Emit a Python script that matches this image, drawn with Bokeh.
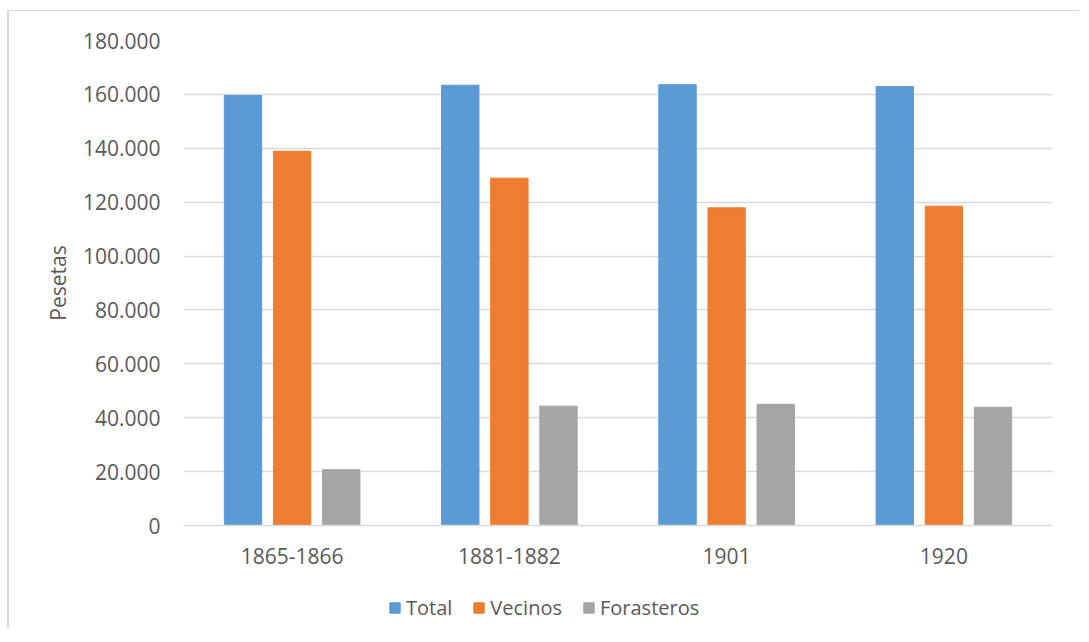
from bokeh.plotting import figure
from bokeh.layouts import column
from bokeh.models import ColumnDataSource, FactorRange, Range1d, Legend, LegendItem, CustomJSTickFormatter, FixedTicker
from bokeh.transform import dodge
from bokeh.embed import file_html
from bokeh.resources import INLINE

periods = ["1865-1866", "1881-1882", "1901", "1920"]
total = [159600, 163400, 163600, 162900]
vecinos = [138900, 128900, 117900, 118500]
forasteros = [20700, 44300, 45000, 43900]
series_names = ["Total", "Vecinos", "Forasteros"]
series_colors = ["#5B9BD5", "#ED7D31", "#A5A5A5"]
y_ticks = [0, 20000, 40000, 60000, 80000, 100000, 120000, 140000, 160000, 180000]

src = ColumnDataSource(dict(p=periods, total=total, vecinos=vecinos, forasteros=forasteros))

FONT = "Open Sans"
TXT = "#595959"
W = 1072

p = figure(x_range=FactorRange(*periods, range_padding=0), y_range=Range1d(0, 180000),
           width=W, height=562, output_backend="svg", toolbar_location=None,
           min_border_left=174, min_border_right=29, min_border_top=29, min_border_bottom=48)
p.outline_line_color = None
p.border_fill_color = "white"

w = 0.172
offsets = [-0.226, 0.0, 0.226]
cols = ["total", "vecinos", "forasteros"]
for off, c, col in zip(offsets, series_colors, cols):
    p.vbar(x=dodge("p", off, range=p.x_range), top=col, width=w, source=src,
           fill_color=c, line_color=c)

p.yaxis.ticker = FixedTicker(ticks=y_ticks)
p.yaxis.formatter = CustomJSTickFormatter(code="""
if (tick == 0) return '0';
return (tick/1000).toFixed(0) + '.000';
""")
p.yaxis.axis_line_color = None
p.yaxis.major_tick_line_color = None
p.yaxis.minor_tick_line_color = None
p.yaxis.major_label_text_font = FONT
p.yaxis.major_label_text_font_size = "21px"
p.yaxis.major_label_text_color = TXT
p.yaxis.major_label_standoff = 17
p.yaxis.axis_label = "Pesetas"
p.yaxis.axis_label_text_font = FONT
p.yaxis.axis_label_text_font_size = "21px"
p.yaxis.axis_label_text_font_style = "normal"
p.yaxis.axis_label_text_color = TXT
p.yaxis.axis_label_standoff = 8

p.xaxis.axis_line_color = "#D9D9D9"
p.xaxis.axis_line_width = 1.5
p.xaxis.major_tick_line_color = None
p.xaxis.minor_tick_line_color = None
p.xaxis.major_label_text_font = FONT
p.xaxis.major_label_text_font_size = "21px"
p.xaxis.major_label_text_color = TXT
p.xaxis.major_label_standoff = 16

p.xgrid.grid_line_color = None
p.ygrid.grid_line_color = "#D9D9D9"
p.ygrid.grid_line_width = 1.5

# legend strip below the chart (its frame is aligned with the main plot's frame)
lf = figure(x_range=Range1d(0, 1), y_range=Range1d(0, 1),
            width=W, height=56, output_backend="svg", toolbar_location=None,
            min_border=0, x_axis_location=None, y_axis_location=None)
lf.grid.grid_line_color = None
lf.outline_line_color = None
items = []
for name, c in zip(series_names, series_colors):
    # swatch renderer kept far outside the visible range; only its legend entry shows
    r = lf.vbar(x=[-100], bottom=[-200], top=[-100], width=0.1, fill_color=c, line_color=c)
    items.append(LegendItem(label=name, renderers=[r]))
legend = Legend(items=items, orientation="horizontal", location=(205, 8),
                label_text_font=FONT, label_text_font_size="20px", label_text_color=TXT,
                glyph_width=13, glyph_height=13, spacing=20, label_standoff=5,
                padding=4, margin=0,
                border_line_color=None, background_fill_alpha=0)
lf.add_layout(legend, "center")

layout = column(p, lf, spacing=0, margin=(11, 0, 0, 9),
                styles={"box-shadow": "-2px -1px 0 0 #D9D9D9", "background": "white"})

open("out.html", "w").write(file_html(layout, INLINE))
